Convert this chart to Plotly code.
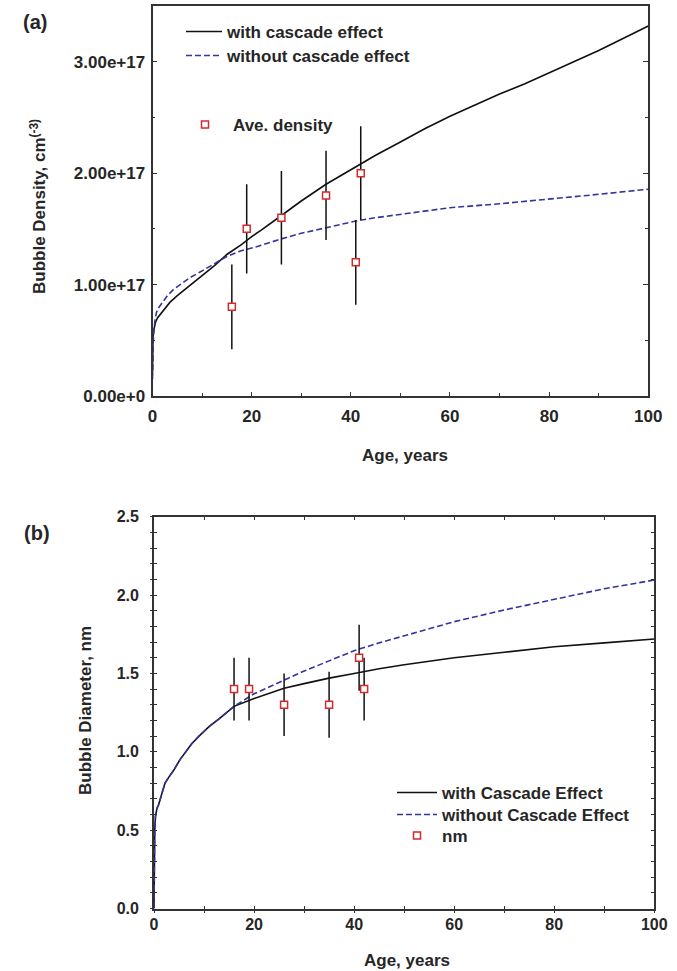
import plotly.graph_objects as go

# ---------------- data ----------------
# (a) bubble density model curves, age in years, density in cm^-3
age_dens_with = [0, 0.1, 0.3, 0.6, 1, 1.5, 2.5, 3.5, 5, 7.5, 10, 12.5, 15, 18, 20, 22, 26, 30,
                 35, 40, 42, 45, 50, 55, 60, 65, 70, 75, 80, 85, 90, 95, 100]
dens_with = [0.2e17, 0.53e17, 0.6e17, 0.66e17, 0.7e17, 0.73e17, 0.78e17, 0.84e17, 0.9e17,
             0.99e17, 1.08e17, 1.17e17, 1.27e17, 1.36e17, 1.43e17, 1.49e17, 1.62e17, 1.75e17,
             1.9e17, 2.03e17, 2.08e17, 2.16e17, 2.28e17, 2.40e17, 2.51e17, 2.61e17, 2.71e17,
             2.80e17, 2.90e17, 3.00e17, 3.10e17, 3.21e17, 3.32e17]

age_dens_without = [0, 0.1, 0.2, 0.5, 0.8, 1.2, 2.1, 3, 4.2, 6, 7.5, 9.5, 11.5, 14.9, 17.6, 21,
                    26, 30, 35, 41, 45, 50, 55, 60, 70, 80, 90, 100]
dens_without = [0.15e17, 0.45e17, 0.55e17, 0.68e17, 0.75e17, 0.79e17, 0.85e17, 0.9e17, 0.955e17,
                1.01e17, 1.06e17, 1.11e17, 1.16e17, 1.25e17, 1.3e17, 1.34e17, 1.41e17, 1.46e17,
                1.51e17, 1.57e17, 1.6e17, 1.63e17, 1.66e17, 1.69e17, 1.725e17, 1.765e17, 1.81e17,
                1.856e17]

# (a) measured average density with error bars
age_meas = [16, 19, 26, 35, 41, 42]
dens_meas = [0.8e17, 1.5e17, 1.6e17, 1.8e17, 1.2e17, 2.0e17]
dens_err = [0.38e17, 0.4e17, 0.42e17, 0.4e17, 0.38e17, 0.42e17]

# (b) bubble diameter model curves, nm
age_diam_with = [0, 0.05, 0.15, 0.3, 0.6, 0.9, 1.2, 1.7, 2.2, 3, 3.9, 5.2, 6.5, 7.5, 9, 11, 13,
                 16, 20, 26, 30, 35, 40, 45, 50, 60, 70, 80, 90, 100]
diam_with = [0, 0.35, 0.5, 0.59, 0.64, 0.66, 0.69, 0.75, 0.8, 0.84, 0.88, 0.95, 1.01, 1.05, 1.1,
             1.16, 1.21, 1.29, 1.34, 1.405, 1.435, 1.47, 1.5, 1.53, 1.555, 1.6, 1.635, 1.67,
             1.695, 1.72]

age_diam_without = [0, 0.05, 0.15, 0.3, 0.6, 0.9, 1.2, 1.7, 2.2, 3, 3.9, 5.2, 6.5, 7.5, 9, 11, 13,
                    16, 20, 26, 30, 35, 40, 45, 50, 60, 70, 80, 90, 100]
diam_without = [0, 0.35, 0.5, 0.59, 0.64, 0.66, 0.69, 0.75, 0.8, 0.84, 0.88, 0.95, 1.01, 1.05,
                1.1, 1.16, 1.21, 1.29, 1.37, 1.46, 1.515, 1.58, 1.645, 1.695, 1.74, 1.83, 1.905,
                1.973, 2.04, 2.096]

# (b) measured diameter with error bars
diam_meas = [1.4, 1.4, 1.3, 1.3, 1.6, 1.4]
diam_err = [0.2, 0.2, 0.2, 0.21, 0.21, 0.2]

# ---------------- styling ----------------
W, H = 677, 971
FONT = "Liberation Sans, Arial, sans-serif"
TXT = "#262626"
AX = "#333333"
BLUE = "#34349e"
RED = "#d42a2a"
LEG_FONT = dict(family=FONT, size=17, color=TXT, weight="bold")


def px_x(p):
    return p / W


def px_y(p):
    return 1 - p / H


def one_row_legend(left, center_y, itemwidth):
    # single-entry legend placed by pixel position
    return dict(x=px_x(left), y=px_y(center_y), xanchor="left", yanchor="middle",
                bgcolor="rgba(0,0,0,0)", itemwidth=itemwidth, font=LEG_FONT)


fig = go.Figure()

# ---- panel (a) ----
fig.add_trace(go.Scatter(x=age_dens_with, y=dens_with, mode="lines", name="with cascade effect",
                         line=dict(color="#111111", width=1.6), xaxis="x", yaxis="y",
                         legend="legend"))
fig.add_trace(go.Scatter(x=age_dens_without, y=dens_without, mode="lines",
                         name="without cascade effect",
                         line=dict(color=BLUE, width=1.6, dash="6px,3px"), xaxis="x", yaxis="y",
                         legend="legend2"))
fig.add_trace(go.Scatter(x=age_meas, y=dens_meas, mode="markers", name="Ave. density",
                         marker=dict(symbol="square", size=7, color="white",
                                     line=dict(color=RED, width=1.5)),
                         error_y=dict(type="data", array=dens_err, color="#111111",
                                      thickness=1.5, width=0),
                         xaxis="x", yaxis="y", legend="legend3"))

# ---- panel (b) ----
fig.add_trace(go.Scatter(x=age_diam_with, y=diam_with, mode="lines", name="with Cascade Effect",
                         line=dict(color="#111111", width=1.6), xaxis="x2", yaxis="y2",
                         legend="legend4"))
fig.add_trace(go.Scatter(x=age_diam_without, y=diam_without, mode="lines",
                         name="without Cascade Effect",
                         line=dict(color=BLUE, width=1.6, dash="6px,3px"), xaxis="x2", yaxis="y2",
                         legend="legend5"))
fig.add_trace(go.Scatter(x=age_meas, y=diam_meas, mode="markers", name="nm",
                         marker=dict(symbol="square", size=7, color="white",
                                     line=dict(color=RED, width=1.5)),
                         error_y=dict(type="data", array=diam_err, color="#111111",
                                      thickness=1.5, width=0),
                         xaxis="x2", yaxis="y2", legend="legend6"))

# empty trace carrying the outer half of the crossing ticks of panel (b)
fig.add_trace(go.Scatter(x=[None], y=[None], xaxis="x3", yaxis="y3", showlegend=False,
                         hoverinfo="skip"))

tickfont_a = dict(family=FONT, size=17, color=TXT, weight="bold")
tickfont_b = dict(family=FONT, size=16, color=TXT, weight="bold")

fig.update_layout(
    width=W, height=H,
    margin=dict(l=0, r=0, t=0, b=0),
    paper_bgcolor="white", plot_bgcolor="white",
    template="none",
    font=dict(family=FONT, color=TXT),
    xaxis=dict(domain=[px_x(152.5), px_x(648.3)], anchor="y", range=[0, 100],
               dtick=20, tick0=0, ticks="inside", ticklen=4, tickwidth=1.3, tickcolor=AX,
               minor=dict(dtick=10, ticks="inside", ticklen=3, tickcolor=AX, showgrid=False),
               showline=True, linecolor=AX, linewidth=1.8, mirror=True,
               showgrid=False, zeroline=False, tickfont=tickfont_a,
               ticklabelstandoff=4, automargin=False),
    yaxis=dict(domain=[px_y(396), px_y(6)], anchor="x", range=[0, 3.5e17],
               dtick=1e17, tick0=0, tickformat=".2e", ticks="inside", ticklen=5,
               tickwidth=1.3, tickcolor=AX,
               minor=dict(dtick=0.5e17, ticks="inside", ticklen=3, tickcolor=AX, showgrid=False),
               showline=True, linecolor=AX, linewidth=1.8, mirror="ticks",
               showgrid=False, zeroline=False, tickfont=tickfont_a,
               ticklabelstandoff=2, automargin=False),
    xaxis2=dict(domain=[px_x(154), px_x(654.3)], anchor="y2", range=[0, 100],
                dtick=20, tick0=0, ticks="inside", ticklen=3, tickwidth=1.3, tickcolor=AX,
                minor=dict(dtick=10, ticks="inside", ticklen=3, tickcolor=AX, showgrid=False),
                showline=True, linecolor=AX, linewidth=1.8, mirror="ticks",
                showgrid=False, zeroline=False, tickfont=tickfont_b,
                ticklabelstandoff=0, automargin=False),
    yaxis2=dict(domain=[px_y(908.5), px_y(516.7)], anchor="x2", range=[0, 2.5],
                dtick=0.5, tick0=0, tickformat=".1f", ticks="inside", ticklen=3,
                tickwidth=1.3, tickcolor=AX,
                minor=dict(dtick=0.1, ticks="inside", ticklen=3, tickcolor=AX, showgrid=False),
                showline=True, linecolor=AX, linewidth=1.8, mirror="ticks",
                showgrid=False, zeroline=False, tickfont=tickfont_b,
                ticklabelstandoff=10, automargin=False),
    xaxis3=dict(overlaying="x2", anchor="y3", range=[0, 100], dtick=10, tick0=0,
                ticks="outside", ticklen=3, tickwidth=1.3, tickcolor=AX, showticklabels=False,
                showline=False, showgrid=False, zeroline=False, automargin=False),
    yaxis3=dict(overlaying="y2", anchor="x3", range=[0, 2.5], dtick=0.1, tick0=0,
                ticks="outside", ticklen=3, tickwidth=1.3, tickcolor=AX, showticklabels=False,
                showline=False, showgrid=False, zeroline=False, automargin=False),
    legend=one_row_legend(181, 32, 36),
    legend2=one_row_legend(181, 56, 36),
    legend3=one_row_legend(177, 125, 46),
    legend4=one_row_legend(392, 793, 40),
    legend5=one_row_legend(392, 815, 40),
    legend6=one_row_legend(392, 836, 40),
)

title_font = dict(family=FONT, size=17, color=TXT, weight="bold")
panel_font = dict(family=FONT, size=20, color=TXT, weight="bold")
annotations = [
    dict(text="(a)", x=px_x(35), y=px_y(22), font=panel_font),
    dict(text="(b)", x=px_x(36.5), y=px_y(533), font=panel_font),
    dict(text="Bubble Density, cm<sup>(-3)</sup>", x=px_x(38), y=px_y(207), textangle=-90,
         font=title_font),
    dict(text="Age, years", x=px_x(405), y=px_y(455), font=title_font),
    dict(text="Bubble Diameter, nm", x=px_x(85), y=px_y(711), textangle=-90, font=title_font),
    dict(text="Age, years", x=px_x(407), y=px_y(960), font=title_font),
]
for a in annotations:
    a.update(xref="paper", yref="paper", showarrow=False, xanchor="center", yanchor="middle")
fig.update_layout(annotations=annotations)

fig.write_html("out.html")
